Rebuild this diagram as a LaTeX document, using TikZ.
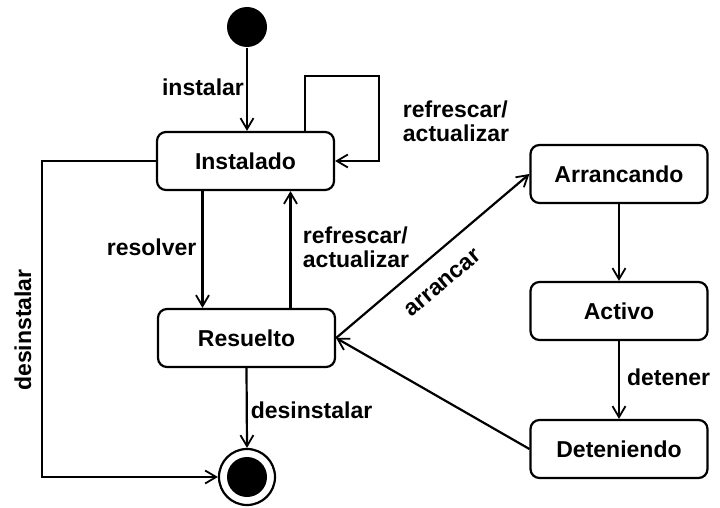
\documentclass[tikz,border=0pt]{standalone}
\usepackage{fontspec}
\setmainfont{Liberation Sans}
\usetikzlibrary{arrows.meta}
\begin{document}
\begin{tikzpicture}[x=1pt,y=-1pt,
  line width=2.2pt,
  font=\fontsize{23}{24}\selectfont\bfseries,
  state/.style={draw, line width=2.2pt, rounded corners=9pt, minimum width=177pt, minimum height=58pt, inner sep=0pt},
  arr/.style={line width=2.2pt, -{Straight Barb[length=11pt,width=13pt,line width=1.8pt]}},
  lbl/.style={inner sep=1pt, align=left}]
\useasboundingbox (0,0) rectangle (720,508);

% states
\node[state] (inst) at (245.5,161) {Instalado};
\node[state] (res)  at (246.5,338) {Resuelto};
\node[state] (arr)  at (619,174) {Arrancando};
\node[state] (act)  at (619,311) {Activo};
\node[state] (det)  at (619,449) {Deteniendo};

% pseudo-states
\node[circle, fill=black, minimum size=40pt, inner sep=0pt] (ini) at (247,27) {};
\node[circle, draw, line width=2.2pt, minimum size=56pt, inner sep=0pt] (fin) at (247,477) {};
\node[circle, fill=black, minimum size=40pt, inner sep=0pt] (finc) at (247,477) {};

% transitions
\draw[arr] (ini) -- (ini |- inst.north) node[lbl, midway, left, xshift=-1pt, yshift=2pt] {instalar};
\draw[arr] ([xshift=-30pt]inst.north east) -- ++(0,-55) -| ([xshift=44pt]inst.east) -- (inst.east);
\node[lbl] (lblloop) at (456,121) {refrescar/\\actualizar};

\draw[arr] ([xshift=-43pt]inst.south) -- ([xshift=-44pt]res.north)
  node[lbl, midway, left, xshift=-4pt, yshift=2pt] {resolver};
\draw[arr] ([xshift=44pt]res.north) -- ([xshift=45pt]inst.south);
\node[lbl] (lblup) at (356,247) {refrescar/\\actualizar};

\draw[arr] (res.south) -- (fin.north) node[lbl, midway, right, xshift=2pt, yshift=-2pt] {desinstalar};
\draw[arr] (inst.west) -- (42,161) |- (fin.west);
\node[lbl, rotate=90] (lbldes) at (23,330) {desinstalar};

\draw[arr] (res.east) -- (arr.west);
\node[lbl, rotate=40] (lblarr) at (443,283) {arrancar};
\draw[arr] (arr.south) -- (act.north);
\draw[arr] (act.south) -- (det.north) node[lbl, midway, right, xshift=6pt, yshift=3pt] {detener};
\draw[arr] (det.west) -- (res.east);
\end{tikzpicture}
\end{document}
